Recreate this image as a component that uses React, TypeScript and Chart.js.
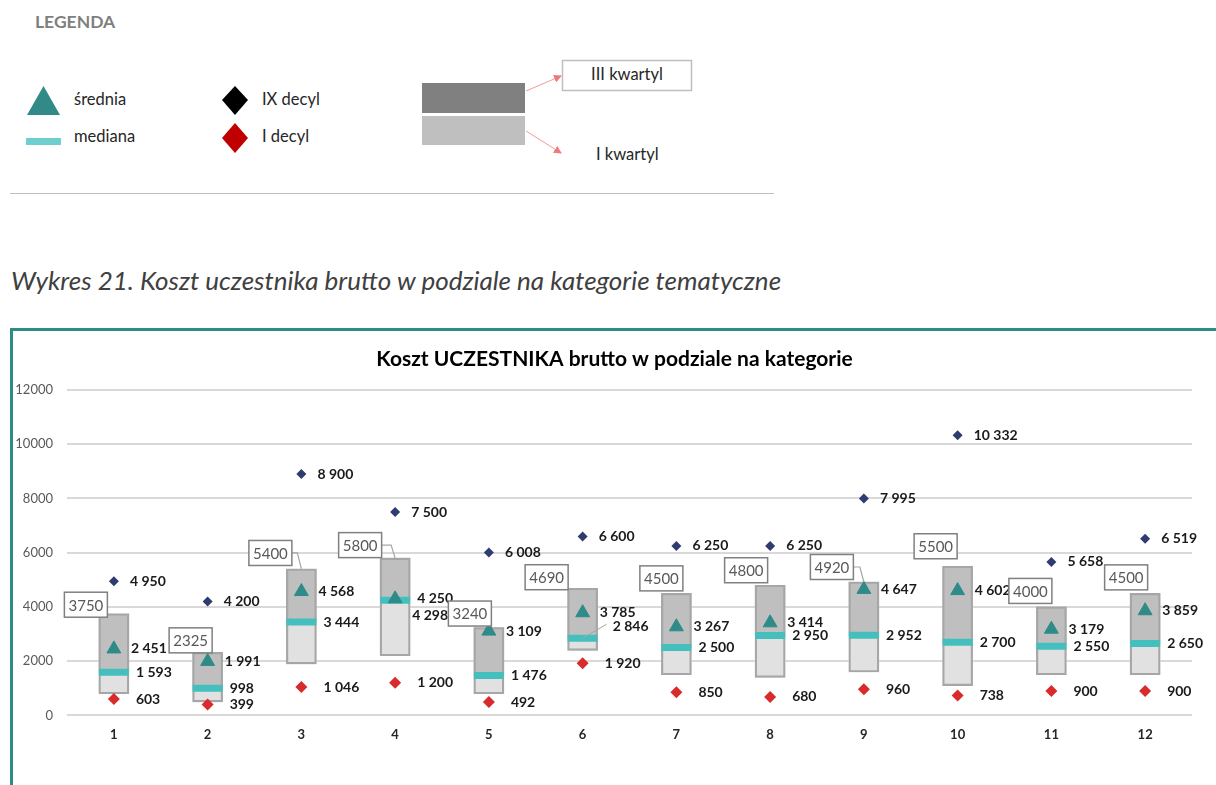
import React, { useEffect, useRef } from 'react';
import { Chart, registerables } from 'chart.js';

Chart.register(...registerables);

const categories = ['1', '2', '3', '4', '5', '6', '7', '8', '9', '10', '11', '12'];
const quartile1 = [800, 500, 1900, 2200, 800, 2400, 1500, 1400, 1600, 1100, 1500, 1500];
const medianValues = [1593, 998, 3444, 4250, 1476, 2846, 2500, 2950, 2952, 2700, 2550, 2650];
const quartile3 = [3750, 2325, 5400, 5800, 3240, 4690, 4500, 4800, 4920, 5500, 4000, 4500];
const meanValues = [2451, 1991, 4568, 4298, 3109, 3785, 3267, 3414, 4647, 4602, 3179, 3859];
const decile9 = [4950, 4200, 8900, 7500, 6008, 6600, 6250, 6250, 7995, 10332, 5658, 6519];
const decile1 = [603, 399, 1046, 1200, 492, 1920, 850, 680, 960, 738, 900, 900];
const yTicks = [0, 2000, 4000, 6000, 8000, 10000, 12000];

const chartTitle = 'Koszt UCZESTNIKA brutto w podziale na kategorie';
const caption = 'Wykres 21. Koszt uczestnika brutto w podziale na kategorie tematyczne';

// label layout (pixel nudges for the III-quartile callouts, relative to the bar top)
const q3LabelLayout = [
  { dx: -28, dy: -9, leader: false },
  { dx: -17, dy: -12, leader: false },
  { dx: -31, dy: -16, leader: true },
  { dx: -35, dy: -13, leader: true },
  { dx: -19, dy: -14, leader: false },
  { dx: -36, dy: -11, leader: false },
  { dx: -15, dy: -15, leader: false },
  { dx: -24, dy: -15, leader: false },
  { dx: -32, dy: -15, leader: true },
  { dx: -22, dy: -20, leader: false },
  { dx: -21, dy: -16, leader: false },
  { dx: -19, dy: -16, leader: false },
];
const medianLabelLift = [0, 0, 0, 0, 0, 12, 0, 0, 0, 0, 0, 0];

const FONT = 'Lato, "Open Sans", sans-serif';

function fmt(v: number): string {
  if (v < 1000) return String(v);
  const th = Math.floor(v / 1000);
  const rest = String(v % 1000).padStart(3, '0');
  return `${th} ${rest}`;
}

const titlePlugin = {
  id: 'centeredTitle',
  afterDraw(chart: any) {
    const ctx = chart.ctx;
    ctx.save();
    ctx.font = `bold 21px ${FONT}`;
    ctx.fillStyle = '#000000';
    ctx.textAlign = 'center';
    ctx.textBaseline = 'middle';
    ctx.fillText(chartTitle, chart.width / 2, 28);
    ctx.restore();
  },
};

const labelsPlugin = {
  id: 'boxLabels',
  afterDatasetsDraw(chart: any) {
    const ctx = chart.ctx;
    const xs = chart.scales.x;
    const ys = chart.scales.y;
    ctx.save();
    ctx.textBaseline = 'middle';
    ctx.textAlign = 'left';
    for (let i = 0; i < categories.length; i++) {
      const x = xs.getPixelForValue(i);
      const yMean = ys.getPixelForValue(meanValues[i]);
      const yMed = ys.getPixelForValue(medianValues[i]);
      const y9 = ys.getPixelForValue(decile9[i]);
      const y1 = ys.getPixelForValue(decile1[i]);
      const yQ3 = ys.getPixelForValue(quartile3[i]);
      let meanY = yMean;
      let medY = yMed;
      let medX = x + 22;
      if (Math.abs(yMean - yMed) < 10) {
        medY = Math.min(yMean, yMed);
        meanY = medY + 17;
      }
      const lift = medianLabelLift[i];
      ctx.strokeStyle = '#a6a6a6';
      ctx.lineWidth = 1;
      if (lift) {
        medY = yMed - lift;
        medX = x + 30;
        ctx.beginPath();
        ctx.moveTo(medX - 6, medY - 2);
        ctx.lineTo(x, yMed);
        ctx.stroke();
      }
      ctx.font = `bold 14px ${FONT}`;
      ctx.fillStyle = '#1a1a1a';
      ctx.fillText(fmt(meanValues[i]), x + 17, meanY);
      ctx.fillText(fmt(medianValues[i]), medX, medY);
      ctx.fillText(fmt(decile9[i]), x + 16, y9);
      ctx.fillText(fmt(decile1[i]), x + 22, y1);

      // III quartile callout box
      const lay = q3LabelLayout[i];
      const cx = x + lay.dx;
      const cy = yQ3 + lay.dy;
      const w = 43;
      const h = 25;
      if (lay.leader) {
        ctx.strokeStyle = '#a6a6a6';
        ctx.lineWidth = 1.2;
        ctx.beginPath();
        ctx.moveTo(cx + w / 2, cy);
        ctx.lineTo(x - 4, cy);
        ctx.lineTo(x, yQ3);
        ctx.stroke();
      }
      ctx.fillStyle = '#ffffff';
      ctx.fillRect(cx - w / 2, cy - h / 2, w, h);
      ctx.strokeStyle = '#808080';
      ctx.lineWidth = 1.5;
      ctx.strokeRect(cx - w / 2, cy - h / 2, w, h);
      ctx.font = `15px ${FONT}`;
      ctx.fillStyle = '#595959';
      ctx.textAlign = 'center';
      ctx.fillText(String(quartile3[i]), cx, cy + 1);
      ctx.textAlign = 'left';
    }
    ctx.restore();
  },
};

function BoxChart() {
  const ref = useRef<HTMLCanvasElement | null>(null);
  useEffect(() => {
    if (!ref.current) return;
    const chart = new Chart(ref.current, {
      type: 'bar',
      data: {
        labels: categories,
        datasets: [
          {
            type: 'line',
            label: 'średnia',
            data: meanValues,
            showLine: false,
            pointStyle: 'triangle',
            pointRadius: 8,
            pointBackgroundColor: '#2e8b88',
            pointBorderColor: '#2e8b88',
            pointBorderWidth: 1,
          } as any,
          {
            type: 'line',
            label: 'IX decyl',
            data: decile9,
            showLine: false,
            pointStyle: 'rectRot',
            pointRadius: 5,
            pointBackgroundColor: '#2f3c6f',
            pointBorderColor: '#2f3c6f',
            pointBorderWidth: 0,
          } as any,
          {
            type: 'line',
            label: 'I decyl',
            data: decile1,
            showLine: false,
            pointStyle: 'rectRot',
            pointRadius: 6,
            pointBackgroundColor: '#d92b2b',
            pointBorderColor: '#d92b2b',
            pointBorderWidth: 0,
          } as any,
          {
            type: 'line',
            label: 'mediana',
            data: medianValues,
            showLine: false,
            pointStyle: 'line',
            pointRadius: 15,
            pointBorderWidth: 7,
            pointBorderColor: '#45bfbe',
            pointBackgroundColor: '#45bfbe',
          } as any,
          {
            label: 'ramka',
            data: quartile1.map((v, i) => [v, quartile3[i]]),
            backgroundColor: 'rgba(0,0,0,0)',
            borderColor: '#a6a6a6',
            borderWidth: 1.5,
            borderSkipped: false,
            barThickness: 30,
            grouped: false,
          } as any,
          {
            label: 'III kwartyl',
            data: medianValues.map((v, i) => [v, quartile3[i]]),
            backgroundColor: '#bfbfbf',
            borderWidth: 0,
            barThickness: 30,
            grouped: false,
          } as any,
          {
            label: 'I kwartyl',
            data: quartile1.map((v, i) => [v, medianValues[i]]),
            backgroundColor: '#e1e1e1',
            borderWidth: 0,
            barThickness: 30,
            grouped: false,
          } as any,
        ],
      },
      options: {
        animation: false,
        responsive: false,
        layout: { padding: { left: 0, right: 24, top: 59, bottom: 30 } },
        plugins: {
          legend: { display: false },
          tooltip: { enabled: false },
          title: { display: false },
        },
        scales: {
          x: {
            grid: { display: false, drawTicks: false },
            border: { display: false },
            ticks: {
              color: '#262626',
              font: { family: FONT, size: 13, weight: 'bold' },
              padding: 12,
            },
          },
          y: {
            min: 0,
            max: 12000,
            afterBuildTicks: (scale: any) => {
              scale.ticks = yTicks.map((v) => ({ value: v }));
            },
            afterFit: (scale: any) => {
              scale.width = 54;
            },
            grid: { color: '#d9d9d9', lineWidth: 2, drawTicks: false },
            border: { display: false },
            ticks: {
              color: '#595959',
              font: { family: FONT, size: 13 },
              padding: 14,
              callback: (v: any) => String(v),
            },
          },
        },
      },
      plugins: [labelsPlugin, titlePlugin],
    });
    return () => chart.destroy();
  }, []);
  return (
    <canvas
      ref={ref}
      width={1203}
      height={454}
      style={{ position: 'absolute', left: 13, top: 331, width: 1203, height: 454 }}
    />
  );
}

function Legend() {
  const fs = 16.5;
  return (
    <svg width={790} height={200} style={{ position: 'absolute', left: 0, top: 0 }}>
      <defs>
        <marker id="arr" markerWidth="8" markerHeight="8" refX="7" refY="4" orient="auto" markerUnits="userSpaceOnUse">
          <path d="M0,0 L8,4 L0,8 z" fill="#ee7b7b" />
        </marker>
      </defs>
      <text x={35} y={28} fontFamily={FONT} fontSize={17.5} fontWeight="bold" fill="#7f7f7f">LEGENDA</text>
      <polygon points="27,115 60,115 43.5,86" fill="#318a87" />
      <text x={74} y={105} fontFamily={FONT} fontSize={fs} fill="#262626">średnia</text>
      <rect x={26} y={138} width={35} height={7} fill="#6fcfcf" />
      <text x={74} y={142} fontFamily={FONT} fontSize={fs} fill="#262626">mediana</text>
      <polygon points="235,86 248,100 235,115 222,100" fill="#000000" />
      <text x={262} y={105} fontFamily={FONT} fontSize={fs} fill="#262626">IX decyl</text>
      <polygon points="235,123 248,138 235,153 222,138" fill="#c00000" />
      <text x={262} y={142} fontFamily={FONT} fontSize={fs} fill="#262626">I decyl</text>
      <rect x={422} y={83} width={103} height={30} fill="#808080" />
      <rect x={422} y={116} width={103} height={29} fill="#bfbfbf" />
      <line x1={526} y1={91} x2={561} y2={76} stroke="#f29a9a" strokeWidth={1} markerEnd="url(#arr)" />
      <line x1={526} y1={131} x2={561} y2={153} stroke="#f29a9a" strokeWidth={1} markerEnd="url(#arr)" />
      <rect x={562.5} y={60.5} width={129} height={30} fill="#ffffff" stroke="#bfbfbf" strokeWidth={1.5} />
      <text x={627} y={80} textAnchor="middle" fontFamily={FONT} fontSize={fs} fill="#262626">III kwartyl</text>
      <text x={596} y={160} fontFamily={FONT} fontSize={fs} fill="#262626">I kwartyl</text>
      <line x1={10} y1={193.5} x2={774} y2={193.5} stroke="#bfbfbf" strokeWidth={1} />
    </svg>
  );
}

export default function App() {
  return (
    <div
      style={{
        position: 'fixed',
        left: 0,
        top: 0,
        width: 1216,
        height: 785,
        overflow: 'hidden',
        background: '#ffffff',
        fontFamily: FONT,
      }}
    >
      <Legend />
      <div
        style={{
          position: 'absolute',
          left: 11,
          top: 265,
          fontFamily: FONT,
          fontStyle: 'italic',
          fontSize: 26,
          color: '#404040',
          whiteSpace: 'nowrap',
          lineHeight: '30px',
        }}
      >
        {caption}
      </div>
      <div
        style={{
          position: 'absolute',
          left: 10,
          top: 328,
          width: 1260,
          height: 520,
          borderTop: '3px solid #2e8b88',
          borderLeft: '3px solid #2e8b88',
          boxSizing: 'border-box',
        }}
      />
      <BoxChart />
    </div>
  );
}
